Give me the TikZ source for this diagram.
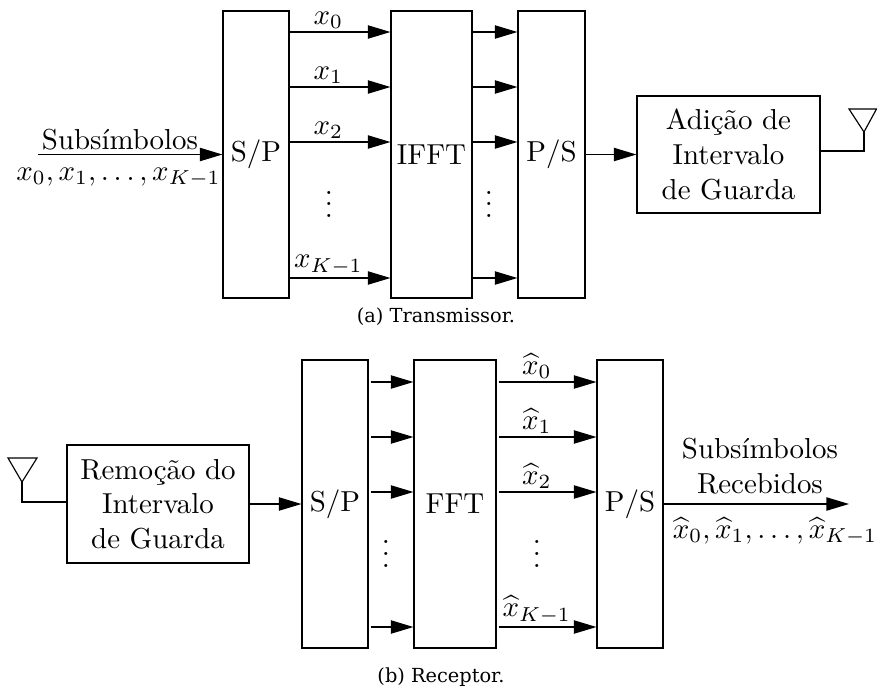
\documentclass[tikz,border=0pt]{standalone}
\usepackage{fontspec}
\usepackage{amsmath}
\newfontfamily\capfont{DejaVu Serif}
\usetikzlibrary{arrows.meta}
\begin{document}
\begin{tikzpicture}[x=0.3461pt,y=-0.3461pt,
  blk/.style={draw, inner sep=0pt, align=center},
  arr/.style={-{Triangle[length=7.8pt,width=4.6pt]}},
  lbl/.style={above, inner sep=1pt},
  vdotsnode/.style={anchor=base, inner sep=0pt},
  captxt/.style={font=\capfont\fontsize{6.7}{8}\selectfont, anchor=base, inner sep=0pt},
]
\useasboundingbox (0,0) rectangle (877,688);
% ---------------- transmitter
\node[blk, minimum width=22.84pt, minimum height=99.33pt] (tsp) at (256,154.5) {S/P};
\node[blk, minimum width=28.03pt, minimum height=99.33pt] (tifft) at (431.5,154.5) {IFFT};
\node[blk, minimum width=23.19pt, minimum height=99.33pt] (tps) at (551.5,154.5) {P/S};
\node[blk, minimum width=63.34pt, minimum height=40.49pt] (tadd) at (728.5,154.5) {Adição de\\Intervalo\\de Guarda};
\foreach \y/\l in {32/$x_0$, 87/$x_1$, 142/$x_2$, 278/$x_{K-1}$} {
  \draw[arr] (tsp.east |- 0,\y) -- node[lbl, pos=0.385]{\l} (tifft.west |- 0,\y);
  \draw[arr] (tifft.east |- 0,\y) -- (tps.west |- 0,\y);
}
\node[vdotsnode] (tdotsa) at (329,217.5) {$\vdots$};
\node[vdotsnode] (tdotsb) at (489,217.5) {$\vdots$};
\node[above, inner sep=1.2pt] (tin) at (120,154.5) {Subsímbolos};
\draw[arr] (tin.south west) -- (tsp.west);
\node[anchor=base] (tinx) at (118.5,180) {$x_0, x_1, \ldots, x_{K-1}$};
\draw[arr] (tps) -- (tadd);
\coordinate (tacorner) at (864,151);
\coordinate (tatip) at (864,132);
\coordinate (tal) at (849,109);
\coordinate (tar) at (876.5,109);
\draw (tadd.east |- tacorner) -- (tacorner) -- (tatip);
\draw (tatip) -- (tal) -- (tar) -- cycle;
\node[captxt] (capa) at (436,322) {(a) Transmissor.};
% ---------------- receiver
\node[blk, minimum width=63.0pt, minimum height=40.84pt] (rrem) at (158,504) {Remoção do\\Intervalo\\de Guarda};
\node[blk, minimum width=22.84pt, minimum height=99.68pt] (rsp) at (335,504) {S/P};
\node[blk, minimum width=28.38pt, minimum height=99.68pt] (rfft) at (455,504) {FFT};
\node[blk, minimum width=22.84pt, minimum height=99.68pt] (rps) at (630,504) {P/S};
\foreach \y/\l in {382/$\widehat{x}_0$, 437/$\widehat{x}_1$, 492/$\widehat{x}_2$, 627/$\widehat{x}_{K-1}$} {
  \draw[arr] ([xshift=0.7pt]rsp.east |- 0,\y) -- (rfft.west |- 0,\y);
  \draw[arr] ([xshift=0.7pt]rfft.east |- 0,\y) -- node[lbl, pos=0.39]{\l} (rps.west |- 0,\y);
}
\node[vdotsnode] (rdotsa) at (386,567) {$\vdots$};
\node[vdotsnode] (rdotsb) at (537,567) {$\vdots$};
\coordinate (racorner) at (22,502);
\coordinate (ratip) at (22,482);
\coordinate (ral) at (8,458);
\coordinate (rar) at (37,458);
\draw (rrem.west |- racorner) -- (racorner) -- (ratip);
\draw (ratip) -- (ral) -- (rar) -- cycle;
\draw[arr] (rrem) -- (rsp);
\coordinate (rout) at (849,504);
\draw[arr] (rps.east) -- (rout);
\node[align=center, anchor=south] (routt) at (760,504) {Subsímbolos\\Recebidos};
\node[anchor=base] (routx) at (775,538) {$\widehat{x}_0, \widehat{x}_1, \ldots, \widehat{x}_{K-1}$};
\node[captxt] (capb) at (441,682) {(b) Receptor.};
\end{tikzpicture}
\end{document}
